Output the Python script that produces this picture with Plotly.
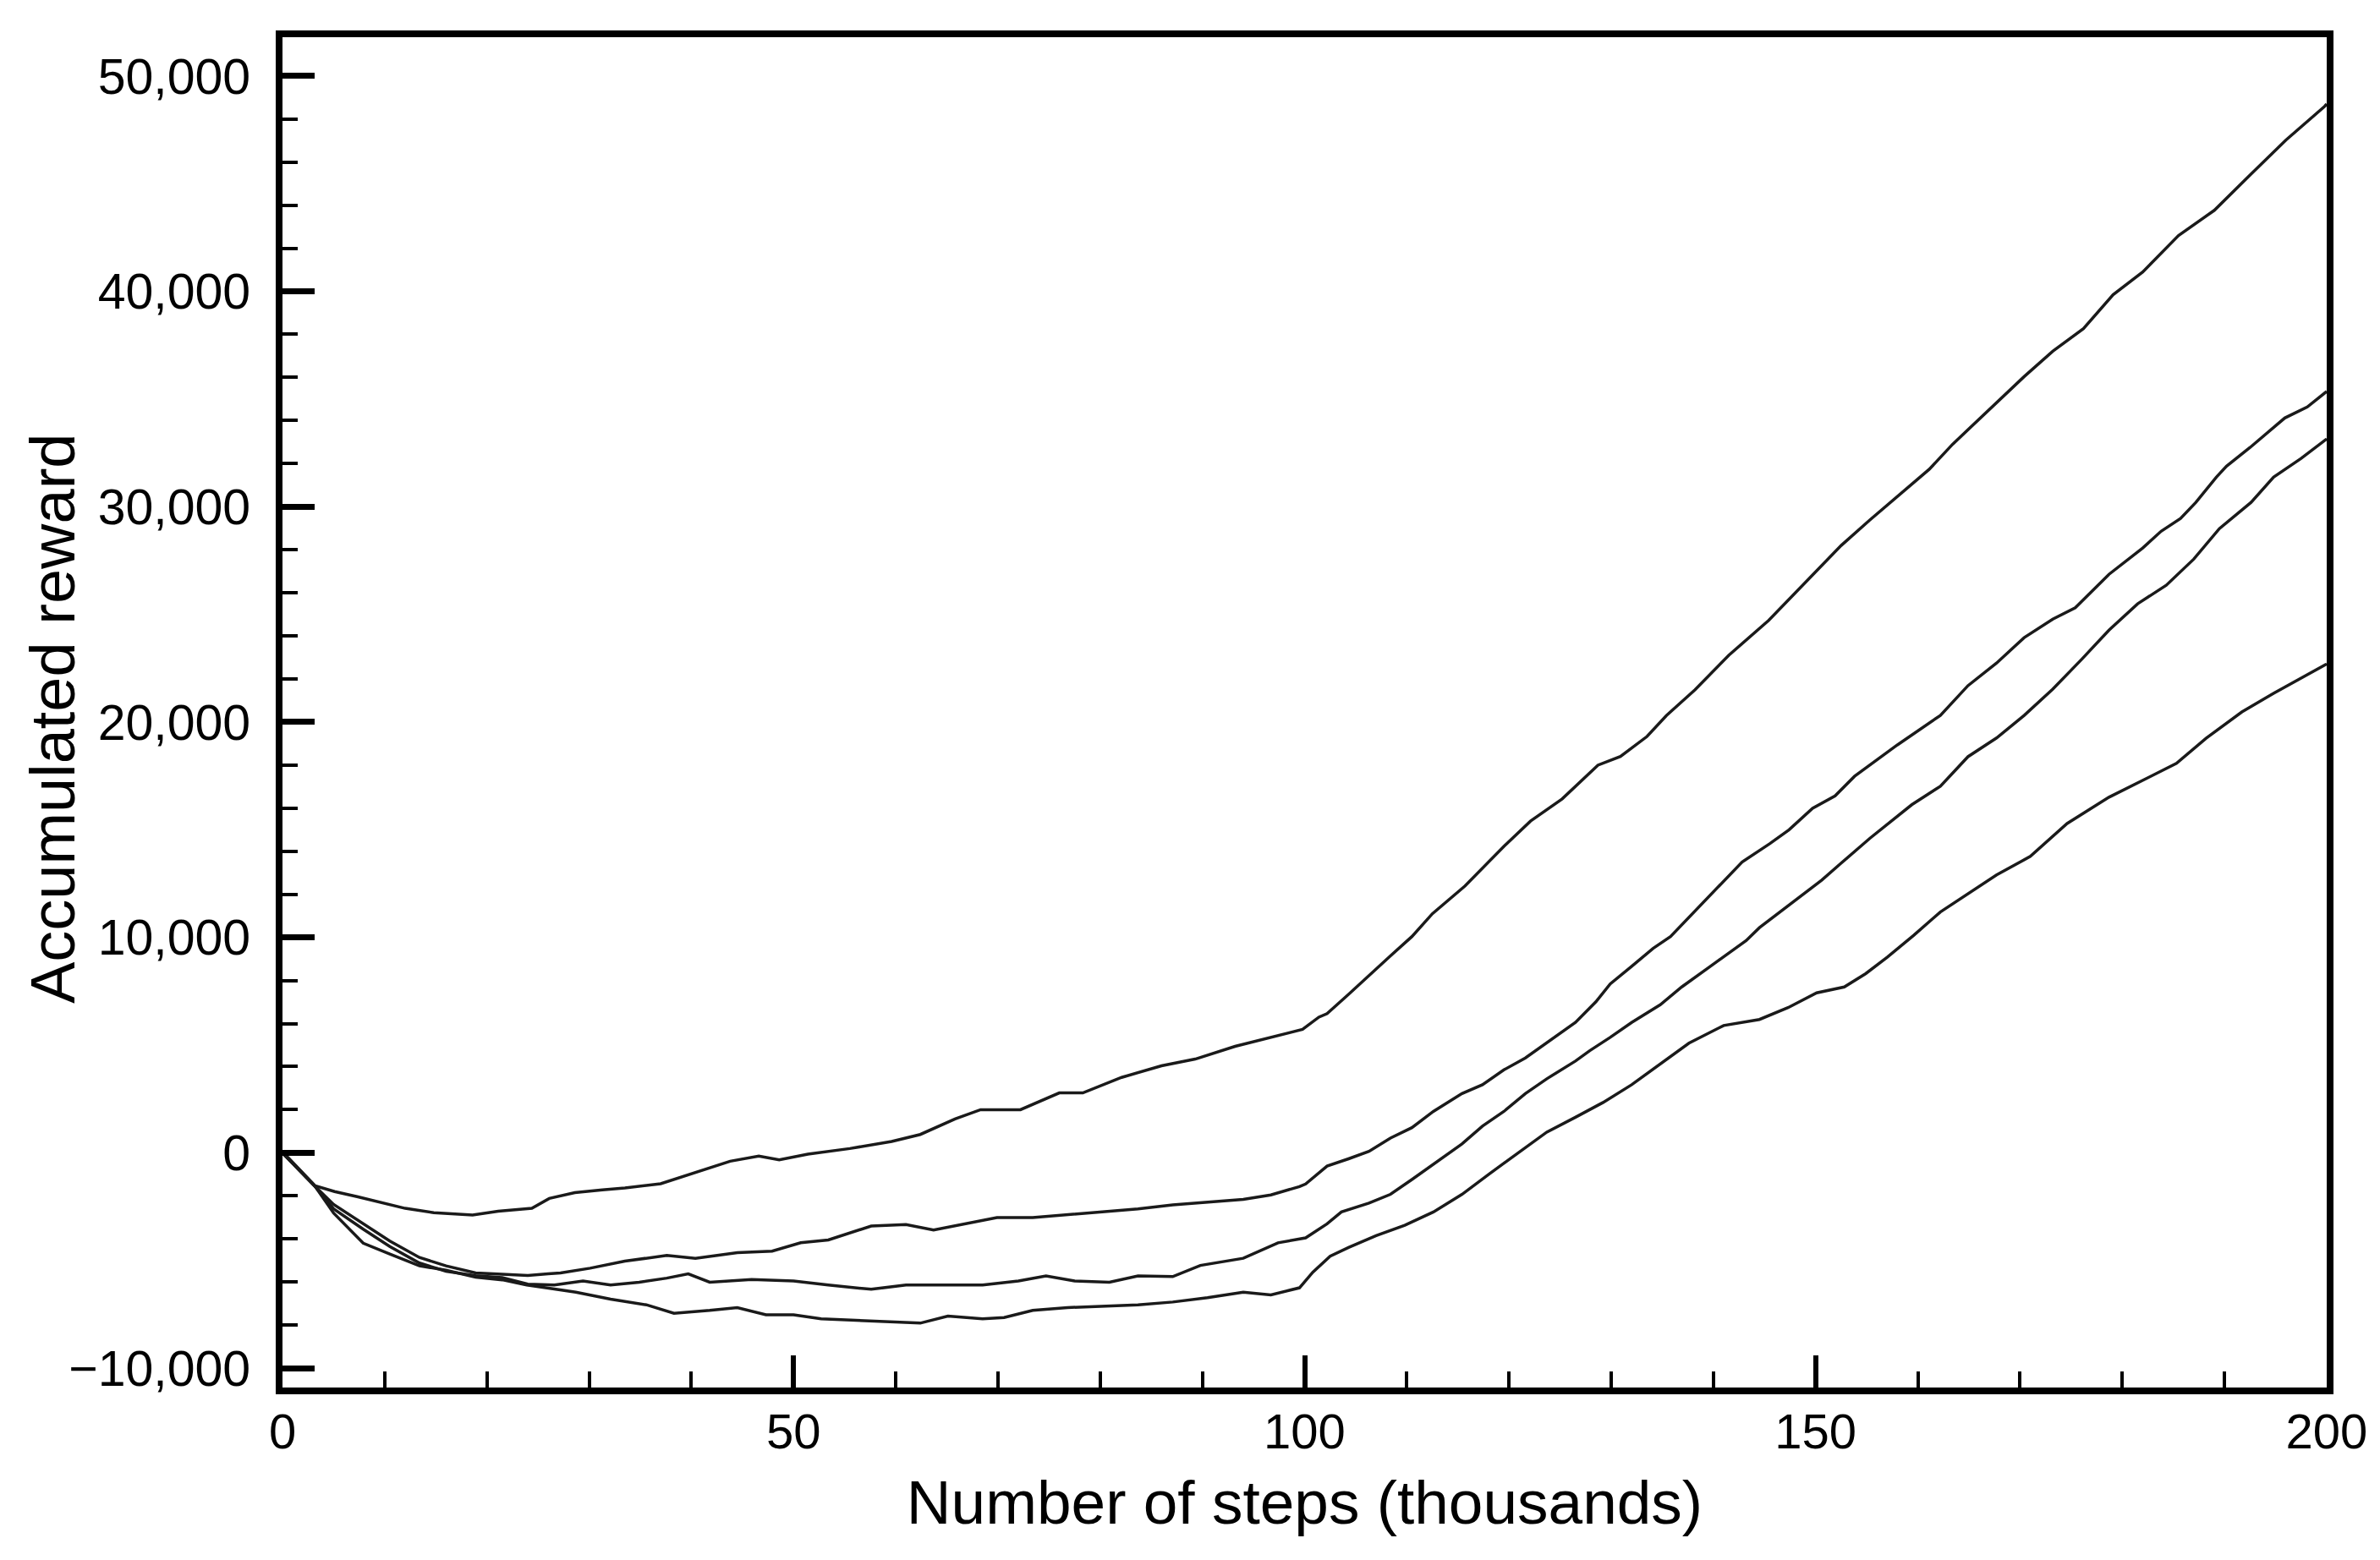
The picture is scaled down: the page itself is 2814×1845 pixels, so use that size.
import plotly.graph_objects as go

# Steps (thousands) and accumulated reward
steps_a = [0, 0.55, 3.2, 5.1, 7.3, 9.2, 12.0, 14.8, 18.6, 21.1, 24.4, 26.1, 28.6, 31.3, 33.5, 37.0,
           40.4, 43.8, 46.6, 48.6, 51.4, 55.5, 59.6, 62.4, 65.8, 68.3, 72.2, 76.0, 78.3, 82.1, 86.0,
           89.3, 93.2, 97.6, 99.8, 101.4, 102.2, 104.3, 106.3, 108.4, 110.5, 112.5, 115.7, 119.5,
           122.1, 125.2, 128.7, 130.9, 133.5, 135.4, 138.2, 141.5, 145.4, 149.5, 152.5, 155.3,
           158.2, 161.1, 163.4, 166.9, 170.4, 173.2, 176.2, 179.1, 182.0, 185.5, 189.0, 192.5,
           196.0, 199.8, 200]
reward_a = [0, -220, -1530, -1800, -2040, -2250, -2580, -2780, -2890, -2710, -2580, -2120, -1850,
            -1720, -1634, -1438, -915, -392, -157, -327, -65, 196, 523, 850, 1568, 2000, 2000, 2780,
            2780, 3500, 4040, 4350, 4940, 5450, 5730, 6300, 6460, 7356, 8250, 9145, 10040, 11100,
            12390, 14230, 15400, 16430, 18000, 18400, 19330, 20300, 21500, 23100, 24720, 26740,
            28200, 29380, 30550, 31730, 32900, 34470, 36040, 37220, 38270, 39840, 40900, 42590,
            43760, 45400, 47020, 48590, 48700]

steps_b = [0, 3.2, 5.0, 7.9, 10.5, 13.4, 16.0, 18.9, 21.5, 24.0, 26.0, 27.2, 30.1, 33.5, 37.6,
           40.4, 44.5, 47.9, 50.7, 53.4, 57.6, 61.0, 63.7, 66.5, 69.9, 73.4, 78.2, 83.7, 87.1,
           90.5, 94.0, 96.7, 99.5, 100.1, 102.2, 104.3, 106.3, 108.4, 110.5, 112.6, 115.4, 117.4,
           119.5, 121.6, 123.7, 126.5, 128.5, 129.9, 132.0, 134.1, 135.8, 137.3, 138.7, 139.8,
           142.8, 145.5, 147.4, 149.7, 151.9, 153.8, 155.3, 158.0, 162.2, 164.9, 167.7, 170.4,
           173.2, 175.4, 178.7, 182.0, 183.8, 185.7, 187.2, 189.2, 190.2, 192.5, 195.9, 198.1, 200]
reward_b = [0, -1570, -2400, -3290, -4100, -4860, -5250, -5580, -5650, -5700, -5620, -5580, -5360,
            -5030, -4770, -4900, -4640, -4570, -4180, -4050, -3400, -3330, -3590, -3330, -3010,
            -3010, -2810, -2610, -2420, -2290, -2160, -1960, -1570, -1450, -620, -280, 65, 685,
            1165, 1922, 2750, 3160, 3850, 4400, 5090, 6050, 7010, 7840, 8660, 9490, 10040, 10780,
            11470, 12010, 13500, 14350, 15000, 16000, 16570, 17480, 18000, 18940, 20310, 21690,
            22740, 23920, 24780, 25310, 26860, 28080, 28860, 29450, 30200, 31370, 31880, 32750,
            34120, 34630, 35350]

steps_c = [0, 3.2, 5.0, 7.9, 10.5, 13.4, 16.0, 18.9, 21.5, 24.0, 26.6, 29.4, 32.1, 34.9, 37.6,
           39.7, 41.8, 45.9, 50.0, 53.4, 57.6, 61.0, 65.1, 68.5, 72.0, 74.7, 77.5, 80.9, 83.7,
           87.1, 89.8, 94.0, 97.4, 100.1, 102.2, 103.6, 106.3, 108.4, 110.5, 112.6, 115.4, 117.4,
           119.5, 121.6, 123.7, 126.5, 127.9, 129.9, 132.0, 134.8, 136.9, 139.7, 141.7, 143.2,
           144.5, 147.7, 150.6, 152.5, 155.3, 159.4, 162.2, 164.9, 167.7, 170.4, 173.2, 176.0,
           178.7, 181.5, 184.3, 187.0, 189.5, 192.6, 194.8, 197.5, 200]
reward_c = [0, -1570, -2600, -3550, -4350, -5120, -5500, -5710, -5800, -6100, -6140, -5950, -6140,
            -6010, -5820, -5620, -6010, -5880, -5950, -6140, -6340, -6140, -6140, -6140, -5950,
            -5720, -5950, -6010, -5720, -5750, -5230, -4900, -4180, -3950, -3300, -2750, -2340,
            -1930, -1240, -550, 410, 1235, 1920, 2750, 3436, 4260, 4740, 5360, 6050, 6875, 7700,
            8660, 9350, 9850, 10450, 11600, 12660, 13450, 14600, 16160, 17020, 18390, 19260, 20310,
            21530, 22900, 24270, 25490, 26350, 27570, 28980, 30200, 31370, 32240, 33150]

steps_d = [0, 3.2, 5.0, 7.9, 10.5, 13.4, 16.0, 18.9, 21.5, 23.9, 28.7, 32.1, 35.6, 38.3, 41.8,
           44.5, 47.3, 50.0, 52.7, 56.2, 59.6, 62.4, 65.1, 68.5, 70.6, 73.4, 76.8, 80.2, 83.7,
           87.1, 90.5, 94.0, 96.7, 99.5, 100.8, 102.5, 104.3, 107.0, 109.8, 112.6, 115.4, 118.1,
           120.9, 123.7, 126.5, 129.2, 132.0, 134.8, 137.6, 141.0, 144.5, 147.3, 150.1, 152.8,
           154.9, 157.0, 158.5, 159.6, 162.2, 164.9, 167.7, 171.0, 174.6, 178.7, 182.3, 185.3,
           188.2, 191.7, 194.8, 197.5, 200]
reward_d = [0, -1570, -2800, -4200, -4700, -5250, -5450, -5780, -5900, -6140, -6470, -6800, -7060,
            -7450, -7320, -7190, -7520, -7520, -7710, -7780, -7840, -7910, -7580, -7710, -7650,
            -7320, -7190, -7120, -7060, -6930, -6730, -6470, -6600, -6270, -5550, -4800, -4400,
            -3850, -3370, -2750, -1930, -970, 0, 960, 1650, 2335, 3160, 4120, 5090, 5910, 6190,
            6740, 7425, 7700, 8320, 9080, 9650, 10100, 11180, 12040, 12900, 13760, 15290, 16510,
            17370, 18080, 19250, 20470, 21330, 22040, 22700]

x_ticks = [0, 50, 100, 150, 200]
y_ticks = [-10000, 0, 10000, 20000, 30000, 40000, 50000]

FONT = "Liberation Sans, Arial, Helvetica, sans-serif"
LINE_COLOR = "#1a1a1a"

fig = go.Figure()
for xs, ys in [(steps_a, reward_a), (steps_b, reward_b), (steps_c, reward_c), (steps_d, reward_d)]:
    fig.add_trace(go.Scatter(x=xs, y=ys, mode="lines",
                             line=dict(color=LINE_COLOR, width=3.5),
                             showlegend=False, hoverinfo="skip"))

fig.update_layout(
    width=2814, height=1845,
    margin=dict(l=326, r=71, t=36, b=212, autoexpand=False),
    paper_bgcolor="white", plot_bgcolor="white",
    font=dict(family=FONT, size=58, color="black"),
)

fig.update_xaxes(
    range=[0, 200], tickvals=x_ticks, ticktext=[str(v) for v in x_ticks],
    showgrid=False, zeroline=False,
    showline=True, linewidth=8, linecolor="black", mirror=True,
    ticks="inside", ticklen=38, tickwidth=6, tickcolor="black",
    minor=dict(ticks="inside", ticklen=19, tickwidth=4, tickcolor="black", dtick=10, tick0=0, showgrid=False),
    tickfont=dict(size=58, family=FONT, color="black"),
    ticklabelstandoff=-6,
    title=dict(text="Number of steps (thousands)", font=dict(size=73, family=FONT, color="black"), standoff=30),
    automargin=False,
)

fig.update_yaxes(
    range=[-10900, 51800], tickvals=y_ticks, tickformat=",d",
    showgrid=False, zeroline=False,
    showline=True, linewidth=8, linecolor="black", mirror=True,
    ticks="inside", ticklen=38, tickwidth=7, tickcolor="black",
    minor=dict(ticks="inside", ticklen=18, tickwidth=4, tickcolor="black", dtick=2000, tick0=0, showgrid=False),
    tickfont=dict(size=59, family=FONT, color="black"),
    ticklabelstandoff=18,
    automargin=False,
)

# y-axis title placed as a rotated annotation for precise positioning
fig.add_annotation(
    text="Accumulated reward", xref="paper", yref="paper",
    x=-0.1125, y=0.4953, xanchor="center", yanchor="middle",
    textangle=-90, showarrow=False,
    font=dict(size=74, family=FONT, color="black"),
)

fig.write_html("out.html")
